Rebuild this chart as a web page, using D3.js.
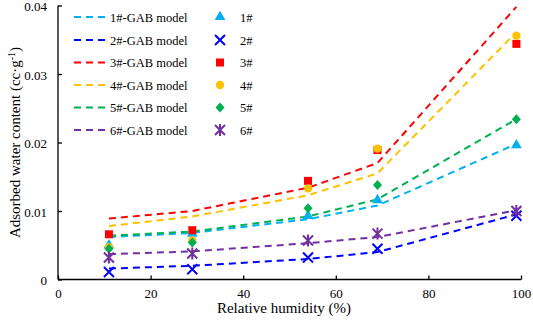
<!DOCTYPE html>
<html><head><meta charset="utf-8">
<script src="https://cdn.jsdelivr.net/npm/d3@7"></script>
<style>body{margin:0;background:#fff}svg{display:block}text{font-family:"Liberation Serif","Times New Roman",serif;fill:#000}</style>
</head><body><svg id="c" width="533" height="320"></svg>
<script>
const humidity = [11, 29, 54, 69, 99];
const seriesNames = ["1#", "2#", "3#", "4#", "5#", "6#"];
const colors = ["#00B0F0", "#0000FF", "#FF0000", "#FFC000", "#00B050", "#7030A0"];
const symbols = ["triangle", "cross", "square", "circle", "diamond", "star"];
// measured points
const pts1 = [0.0050, 0.0067, 0.0093, 0.0116, 0.0196];
const pts2 = [0.0011, 0.0015, 0.0032, 0.0045, 0.0093];
const pts3 = [0.0066, 0.0072, 0.0144, 0.0189, 0.0344];
const pts4 = [0.0047, 0.0057, 0.0133, 0.0191, 0.0356];
const pts5 = [0.0045, 0.0054, 0.0104, 0.0138, 0.0234];
const pts6 = [0.0032, 0.0038, 0.0057, 0.0067, 0.0100];
// GAB model
const gab1 = [0.0062, 0.0068, 0.0088, 0.0108, 0.0198];
const gab2 = [0.0016, 0.0020, 0.0030, 0.0040, 0.0095];
const gab3 = [0.0089, 0.0100, 0.0134, 0.0170, 0.0398];
const gab4 = [0.0078, 0.0092, 0.0123, 0.0155, 0.0361];
const gab5 = [0.0064, 0.0070, 0.0092, 0.0117, 0.0234];
const gab6 = [0.0037, 0.0041, 0.0053, 0.0062, 0.0101];
const xTicks = [0, 20, 40, 60, 80, 100];
const yTicks = [0, 0.01, 0.02, 0.03, 0.04];

const points = [pts1, pts2, pts3, pts4, pts5, pts6];
const models = [gab1, gab2, gab3, gab4, gab5, gab6];

const FONT = '"Liberation Serif","Times New Roman",serif';
const svg = d3.select("#c");
const x = d3.scaleLinear().domain([0, 100]).range([58, 521]);
const y = d3.scaleLinear().domain([0, 0.04]).range([279.5, 5.5]);

// axes
const xa = svg.append("g").attr("transform", `translate(0,${y(0)})`)
  .call(d3.axisBottom(x).tickValues(xTicks).tickSize(-4).tickPadding(9).tickFormat(d3.format("d")));
const ya = svg.append("g").attr("transform", `translate(${x(0)},0)`)
  .call(d3.axisLeft(y).tickValues(yTicks).tickSize(-4).tickPadding(11).tickFormat(d => d === 0 ? "0" : d3.format(".2f")(d)));
[xa, ya].forEach(a => {
  a.attr("font-family", null);
  a.selectAll("path, line").attr("stroke", "#000").attr("stroke-width", 1.3);
  a.selectAll("text").style("font-size", "13px").style("font-family", FONT);
});
ya.selectAll("text").attr("dy", "0.4em");
xa.select(".domain").attr("d", `M${x(0)},0H${x(100)}`);
ya.select(".domain").attr("d", `M0,${y(0)}V${y(0.04)}`);

svg.append("text").attr("x", 284).attr("y", 313).attr("text-anchor", "middle")
  .style("font-family", FONT).style("font-size", "15px").text("Relative humidity (%)");
svg.append("text").attr("transform", `translate(20,${y(0.02)}) rotate(-90)`).attr("text-anchor", "middle")
  .style("font-family", FONT).style("font-size", "15px")
  .html('Adsorbed water content (cc·g<tspan dy="-5" font-size="10">-1</tspan><tspan dy="5">)</tspan>');

// model lines
const line = d3.line().x((d, i) => x(humidity[i])).y(d => y(d));
models.forEach((m, k) => {
  svg.append("path").datum(m).attr("d", line).attr("fill", "none")
    .attr("stroke", colors[k]).attr("stroke-width", 2).attr("stroke-dasharray", "7,5");
});

// marker drawing
function marker(g, type, color, cx, cy) {
  if (type === "triangle") {
    g.append("path").attr("d", d3.symbol(d3.symbolTriangle, 50)()).attr("transform", `translate(${cx},${cy})`).attr("fill", color);
  } else if (type === "cross") {
    g.append("path").attr("d", "M-5,-5L5,5M-5,5L5,-5").attr("transform", `translate(${cx},${cy})`)
      .attr("stroke", color).attr("stroke-width", 2).attr("fill", "none");
  } else if (type === "square") {
    g.append("path").attr("d", d3.symbol(d3.symbolSquare, 64)()).attr("transform", `translate(${cx},${cy})`).attr("fill", color);
  } else if (type === "circle") {
    g.append("path").attr("d", d3.symbol(d3.symbolCircle, 55)()).attr("transform", `translate(${cx},${cy})`).attr("fill", color);
  } else if (type === "diamond") {
    g.append("path").attr("d", "M0,-5L4.5,0L0,5L-4.5,0Z").attr("transform", `translate(${cx},${cy})`).attr("fill", color);
  } else if (type === "star") {
    g.append("path").attr("d", "M-5,-5L5,5M-5,5L5,-5M0,-6V6").attr("transform", `translate(${cx},${cy})`)
      .attr("stroke", color).attr("stroke-width", 2).attr("fill", "none");
  }
}

const mg = svg.append("g");
points.forEach((p, k) => {
  p.forEach((v, i) => marker(mg, symbols[k], colors[k], x(humidity[i]), y(v)));
});

// legend
const lg = svg.append("g");
const rowY = [17, 40, 62.5, 85, 107.5, 130];
seriesNames.forEach((n, k) => {
  const yy = rowY[k];
  lg.append("line").attr("x1", 74).attr("x2", 106).attr("y1", yy).attr("y2", yy)
    .attr("stroke", colors[k]).attr("stroke-width", 2).attr("stroke-dasharray", "7,5");
  lg.append("text").attr("x", 110).attr("y", yy + 4.5).style("font-family", FONT).style("font-size", "12.5px").text(n + "-GAB model");
  marker(lg, symbols[k], colors[k], 220, yy);
  lg.append("text").attr("x", 240).attr("y", yy + 4.5).style("font-family", FONT).style("font-size", "12.5px").text(n);
});
</script></body></html>
